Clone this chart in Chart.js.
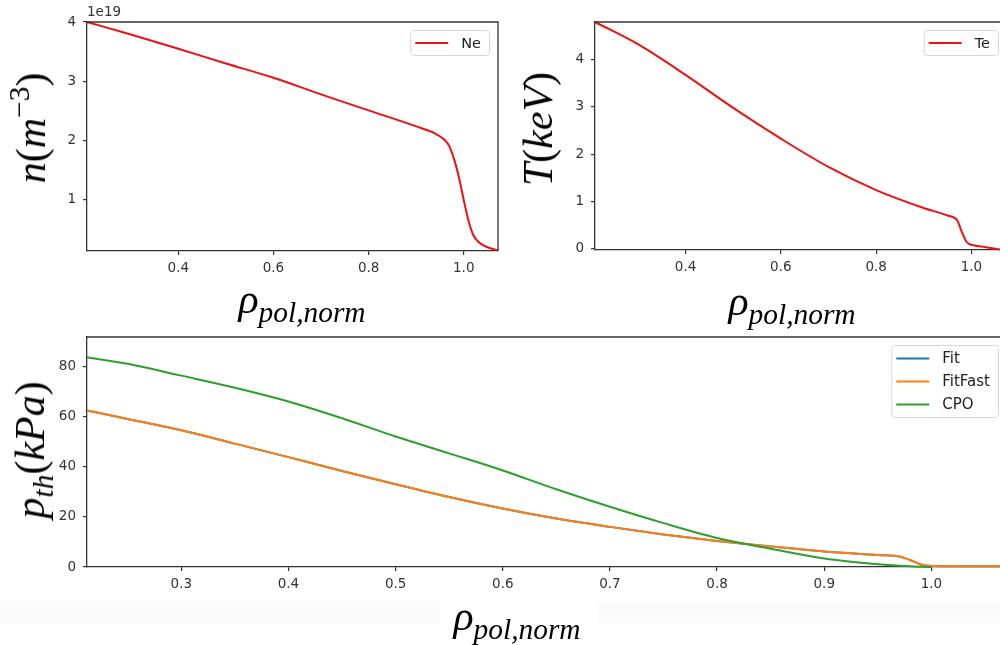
<!DOCTYPE html>
<html>
<head>
<meta charset="utf-8">
<script src="https://cdn.jsdelivr.net/npm/chart.js@4/dist/chart.umd.min.js"></script>
<style>
  html, body { margin: 0; padding: 0; background: #fff; overflow: hidden; }
  #page { position: relative; width: 1000px; height: 645px; }
  canvas { position: absolute; }
  .band { position: absolute; background: #fbfbfb; }
  .mlabel {
    position: absolute;
    font-family: "Liberation Serif", "DejaVu Serif", serif;
    font-size: 42px;
    color: #000;
    white-space: nowrap;
    line-height: 1;
    transform: translate(-50%, -50%);
  }
  .mlabel i { font-style: italic; }
  .mlabel sup { font-size: 0.7em; vertical-align: 0.55em; line-height: 0; }
  .mlabel sub { font-size: 0.7em; vertical-align: -0.3em; line-height: 0; font-style: italic; }
  .ylab { transform: translate(-50%, -50%) rotate(-90deg); }
</style>
</head>
<body>
<div id="page">
  <div class="band" style="left:0; top:601px; width:440px; height:23px;"></div>
  <div class="band" style="left:597px; top:602px; width:403px; height:21px;"></div>

  <canvas id="neChart" width="500" height="330" style="left:0; top:0;"></canvas>
  <canvas id="teChart" width="500" height="330" style="left:500px; top:0;"></canvas>
  <canvas id="pChart" width="1000" height="315" style="left:0; top:330px;"></canvas>

  <div class="mlabel ylab" style="left:31px; top:128px;"><i>n</i>(<i>m</i><sup>−3</sup>)</div>
  <div class="mlabel" style="left:302px; top:299px;"><i>ρ</i><sub>pol,norm</sub></div>
  <div class="mlabel ylab" style="left:538px; top:129px;"><i>T</i>(<i>keV</i>)</div>
  <div class="mlabel" style="left:792px; top:301px;"><i>ρ</i><sub>pol,norm</sub></div>
  <div class="mlabel ylab" style="left:30px; top:450px;"><i>p</i><sub>th</sub>(<i>kPa</i>)</div>
  <div class="mlabel" style="left:517px; top:616px;"><i>ρ</i><sub>pol,norm</sub></div>
</div>

<script>
// --- data ---
// electron density, units of 1e19 m^-3
var neRho    = [0.208, 0.30, 0.40, 0.50, 0.60, 0.70, 0.80, 0.90, 0.94, 0.96, 0.97, 0.98, 0.99, 1.00, 1.01, 1.02, 1.03, 1.045, 1.072];
var neValues = [4.00, 3.79, 3.55, 3.30, 3.06, 2.78, 2.51, 2.24, 2.12, 2.01, 1.90, 1.68, 1.38, 1.00, 0.65, 0.41, 0.30, 0.22, 0.15];

// electron temperature, keV
var teRho    = [0.21, 0.30, 0.40, 0.50, 0.60, 0.70, 0.80, 0.90, 0.95, 0.97, 0.98, 0.99, 1.00, 1.03, 1.06];
var teValues = [4.80, 4.33, 3.68, 2.98, 2.33, 1.73, 1.24, 0.86, 0.70, 0.60, 0.35, 0.14, 0.08, 0.03, -0.02];

// thermal pressure, kPa
var pRho     = [0.212, 0.25, 0.30, 0.35, 0.40, 0.45, 0.50, 0.55, 0.60, 0.65, 0.70, 0.75, 0.80, 0.85, 0.90, 0.95, 0.97, 0.98, 0.99, 1.00, 1.03, 1.064];
var pFit     = [62.4, 59.0, 54.5, 49.2, 43.8, 38.3, 33.0, 27.9, 23.3, 19.3, 16.0, 13.0, 10.4, 8.2, 6.2, 4.8, 4.2, 2.8, 1.0, 0.4, 0.3, 0.3];
var pFitFast = [62.4, 59.0, 54.5, 49.2, 43.8, 38.3, 33.0, 27.9, 23.3, 19.3, 16.0, 13.0, 10.4, 8.2, 6.2, 4.8, 4.2, 2.8, 1.0, 0.4, 0.3, 0.3];
var cpoRho   = [0.212, 0.25, 0.30, 0.35, 0.40, 0.45, 0.50, 0.55, 0.60, 0.65, 0.70, 0.75, 0.80, 0.85, 0.90, 0.95, 0.97, 0.98, 0.99, 1.00];
var pCpo     = [83.6, 81.0, 76.3, 71.5, 66.0, 59.3, 52.0, 45.3, 38.5, 31.0, 24.0, 17.5, 11.6, 7.3, 3.4, 1.1, 0.5, 0.3, 0.1, 0.0];

var topXTicks = [0.4, 0.6, 0.8, 1.0];
var neYTicks  = [1, 2, 3, 4];
var teYTicks  = [0, 1, 2, 3, 4];
var pXTicks   = [0.3, 0.4, 0.5, 0.6, 0.7, 0.8, 0.9, 1.0];
var pYTicks   = [0, 20, 40, 60, 80];

var AXIS_COLOR = '#333333';
var TICK_FONT = { family: '"DejaVu Sans", sans-serif', size: 13.5 };

function zip(xs, ys) {
  return xs.map(function (x, i) { return { x: x, y: ys[i] }; });
}

// draws top/right spines and the offset label ("1e19")
var framePlugin = {
  id: 'frame',
  afterDraw: function (chart, args, opts) {
    var ctx = chart.ctx, a = chart.chartArea;
    ctx.save();
    ctx.strokeStyle = AXIS_COLOR;
    ctx.lineWidth = 1.3;
    ctx.beginPath();
    ctx.moveTo(a.left, a.top);
    ctx.lineTo(a.right, a.top);
    if (opts.right !== false) ctx.lineTo(a.right, a.bottom);
    ctx.stroke();
    if (opts.offsetText) {
      ctx.fillStyle = AXIS_COLOR;
      ctx.font = '13.5px "DejaVu Sans", sans-serif';
      ctx.textBaseline = 'bottom';
      ctx.fillText(opts.offsetText, a.left, a.top - 3);
    }
    ctx.restore();
  }
};

// matplotlib-style legend box in the upper right corner of the plot
var boxLegendPlugin = {
  id: 'boxLegend',
  afterDraw: function (chart, args, opts) {
    var ctx = chart.ctx, a = chart.chartArea;
    var items = chart.data.datasets;
    ctx.save();
    ctx.font = opts.fontSize + 'px "DejaVu Sans", sans-serif';
    var textW = 0;
    items.forEach(function (d) { textW = Math.max(textW, ctx.measureText(d.label).width); });
    var w = 5 + 33 + 13 + textW + 8;
    var h = items.length * opts.rowH + opts.padY * 2;
    var x = a.right - opts.right - w, y = a.top + opts.top;
    ctx.fillStyle = 'rgba(255,255,255,0.85)';
    ctx.strokeStyle = '#d8d8d8';
    ctx.lineWidth = 1;
    ctx.beginPath();
    ctx.roundRect(x + 0.5, y + 0.5, w, h, 3);
    ctx.fill();
    ctx.stroke();
    items.forEach(function (d, i) {
      var cy = y + opts.padY + opts.rowH * (i + 0.5) + 0.5;
      ctx.strokeStyle = d.borderColor;
      ctx.lineWidth = 2;
      ctx.beginPath();
      ctx.moveTo(x + 5, cy);
      ctx.lineTo(x + 38, cy);
      ctx.stroke();
      ctx.fillStyle = '#222';
      ctx.textBaseline = 'middle';
      ctx.fillText(d.label, x + 51, cy + 1);
    });
    ctx.restore();
  }
};

function axis(min, max, ticks, fmt, isX, size) {
  return {
    type: 'linear',
    min: min,
    max: max,
    afterBuildTicks: function (scale) {
      scale.ticks = ticks.map(function (v) { return { value: v }; });
    },
    afterFit: function (scale) {
      if (isX) scale.height = size; else scale.width = size;
      // layout padding alone decides where the plot box goes
      scale.paddingTop = scale.paddingBottom = 0;
      scale.paddingLeft = scale.paddingRight = 0;
    },
    grid: { drawOnChartArea: false, drawTicks: true, tickLength: 4, color: AXIS_COLOR, lineWidth: 1.2 },
    border: { display: true, color: AXIS_COLOR, width: 1.3 },
    ticks: {
      autoSkip: false,
      maxRotation: 0,
      padding: isX ? 5 : 7,
      color: AXIS_COLOR,
      font: TICK_FONT,
      callback: fmt
    }
  };
}

function oneDecimal(v) { return v.toFixed(1); }
function integer(v) { return String(Math.round(v)); }

function lineSet(label, points, color, order) {
  return {
    label: label,
    data: points,
    borderColor: color,
    backgroundColor: color,
    borderWidth: 2,
    pointRadius: 0,
    fill: false,
    cubicInterpolationMode: 'monotone',
    order: order || 0,
    clip: 3
  };
}

function makeChart(id, datasets, o) {
  return new Chart(document.getElementById(id), {
    type: 'line',
    data: { datasets: datasets },
    options: {
      responsive: false,
      animation: false,
      events: [],
      layout: { padding: o.padding },
      scales: {
        x: axis(o.xMin, o.xMax, o.xTicks, oneDecimal, true, 30),
        y: axis(o.yMin, o.yMax, o.yTicks, integer, false, o.yWidth)
      },
      plugins: {
        legend: { display: false },
        tooltip: { enabled: false },
        frame: o.frame,
        boxLegend: o.legend
      }
    },
    plugins: [framePlugin, boxLegendPlugin]
  });
}

makeChart('neChart', [lineSet('Ne', zip(neRho, neValues), '#ee1111')], {
  xMin: 0.208, xMax: 1.072, xTicks: topXTicks,
  yMin: 0.14, yMax: 4.0, yTicks: neYTicks, yWidth: 87,
  padding: { top: 22, right: 2, bottom: 49, left: 0 },
  frame: { right: true, offsetText: '1e19' },
  legend: { fontSize: 14.5, rowH: 21, padY: 2, right: 9, top: 8 }
});

makeChart('teChart', [lineSet('Te', zip(teRho, teValues), '#ee1111')], {
  xMin: 0.21, xMax: 1.06, xTicks: topXTicks,
  yMin: -0.03, yMax: 4.8, yTicks: teYTicks, yWidth: 95,
  padding: { top: 22, right: 0, bottom: 50, left: 0 },
  frame: { right: false },
  legend: { fontSize: 14.5, rowH: 21, padY: 2, right: 2, top: 8 }
});

makeChart('pChart', [
  lineSet('Fit', zip(pRho, pFit), '#1f77b4', 3),
  lineSet('FitFast', zip(pRho, pFitFast), '#ff7f0e', 2),
  lineSet('CPO', zip(cpoRho, pCpo), '#2ca02c', 1)
], {
  xMin: 0.212, xMax: 1.064, xTicks: pXTicks,
  yMin: 0, yMax: 91.7, yTicks: pYTicks, yWidth: 87,
  padding: { top: 7, right: 0, bottom: 48, left: 0 },
  frame: { right: false },
  legend: { fontSize: 15, rowH: 23, padY: 1.5, right: 2, top: 8 }
});
</script>
</body>
</html>
